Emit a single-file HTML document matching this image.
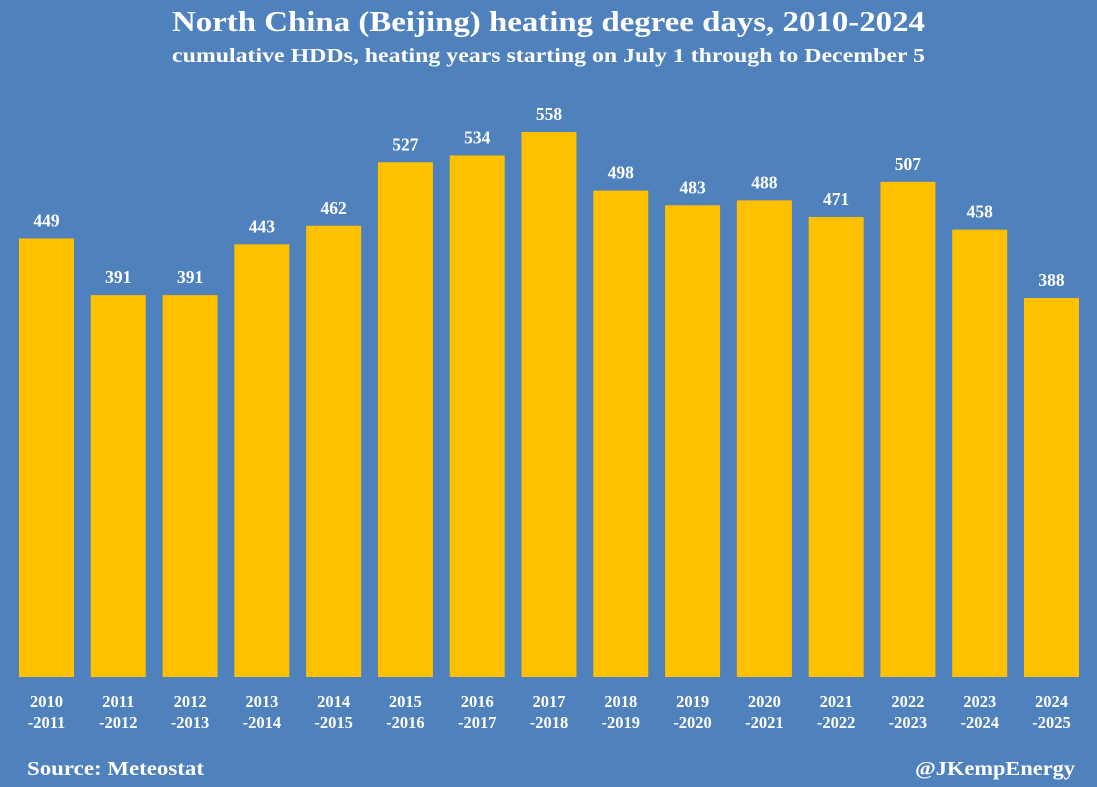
<!DOCTYPE html>
<html><head><meta charset="utf-8"><style>
body{margin:0;width:1097px;height:782px;background:#4f81bd;overflow:hidden;font-family:"Liberation Serif",serif;color:#fff}
svg text{font-family:"Liberation Serif",serif;font-weight:bold;fill:#fff}
</style></head><body>
<svg width="1097" height="782">
<text x="172" y="31" font-size="28" textLength="753" lengthAdjust="spacingAndGlyphs">North China (Beijing) heating degree days, 2010-2024</text>
<text x="172" y="62" font-size="20" textLength="753" lengthAdjust="spacingAndGlyphs">cumulative HDDs, heating years starting on July 1 through to December 5</text>
<g id="bars"></g>
<text x="27" y="775" font-size="20" textLength="177" lengthAdjust="spacingAndGlyphs">Source: Meteostat</text>
<text x="915" y="775" font-size="20" textLength="160" lengthAdjust="spacingAndGlyphs">@JKempEnergy</text>
</svg>
<script>
const startYears=[2010,2011,2012,2013,2014,2015,2016,2017,2018,2019,2020,2021,2022,2023,2024];
const values=[449,391,391,443,462,527,534,558,498,483,488,471,507,458,388];
const baseY=677, scale=545/558, x0=19, pitch=(1024-19)/14, bw=55;
const xPos=i=>x0+i*pitch;
const yPos=v=>baseY-v*scale;
const g=document.getElementById('bars');
const NS='http://www.w3.org/2000/svg';
values.forEach((v,i)=>{
  const r=document.createElementNS(NS,'rect');
  r.setAttribute('x',xPos(i));r.setAttribute('y',yPos(v));
  r.setAttribute('width',bw);r.setAttribute('height',baseY-yPos(v));
  r.setAttribute('fill','#ffc000');
  
  
  g.appendChild(r);
  const t=document.createElementNS(NS,'text');
  t.setAttribute('x',xPos(i)+bw/2);t.setAttribute('y',yPos(v)-12);
  t.setAttribute('text-anchor','middle');t.setAttribute('font-size','17.5');
  t.textContent=v;
  
  
  g.appendChild(t);
  const l=document.createElementNS(NS,'text');
  l.setAttribute('x',xPos(i)+bw/2);l.setAttribute('y',707);
  l.setAttribute('text-anchor','middle');l.setAttribute('font-size','16.5');
  
  
  const s1=document.createElementNS(NS,'tspan');s1.setAttribute('x',xPos(i)+bw/2);s1.textContent=startYears[i];
  const s2=document.createElementNS(NS,'tspan');s2.setAttribute('x',xPos(i)+bw/2);s2.setAttribute('dy','21');s2.textContent='-'+(startYears[i]+1);
  l.appendChild(s1);l.appendChild(s2);
  g.appendChild(l);
});
</script>
</body></html>
